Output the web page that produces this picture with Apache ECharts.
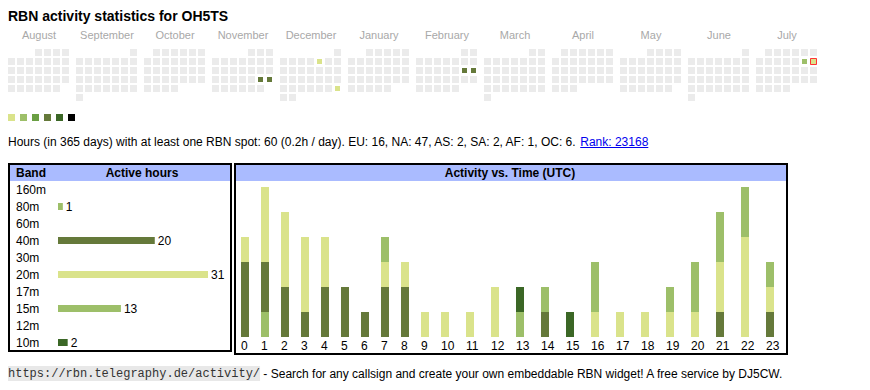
<!DOCTYPE html>
<html><head><meta charset="utf-8">
<script src="https://cdn.jsdelivr.net/npm/echarts@6/dist/echarts.min.js"></script>
<style>html,body{margin:0;padding:0;background:#fff}#c{width:870px;height:390px}</style>
</head><body><div id="c"></div>
<script>
// ---------------- data ----------------
const callsign = 'OH5TS';
const months = ['2024-08','2024-09','2024-10','2024-11','2024-12','2025-01','2025-02','2025-03','2025-04','2025-05','2025-06','2025-07'];
const monthNames = ['August','September','October','November','December','January','February','March','April','May','June','July'];
const activeDays = ['2024-11-23','2024-11-24','2024-12-06','2024-12-29','2025-02-15','2025-02-16','2025-07-12','2025-07-13'];
const activeDayHours = [12, 13, 2, 2, 12, 13, 4, 2];
const today = '2025-07-13';
const levelUpper = [2, 5, 9, 14, 19];          // hours per day, level bounds
const levelColors = ['#dae38b','#9dbf69','#6a9f43','#65793a','#3b6726','#000000'];

const daysSpan = 365;
const totalHours = 60;
const continents = ['EU','NA','AS','SA','AF','OC'];
const continentHours = [16, 47, 2, 2, 1, 6];
const rank = 23168;

const bands = ['160m','80m','60m','40m','30m','20m','17m','15m','12m','10m'];
const bandHours = [0, 1, 0, 20, 0, 31, 0, 13, 0, 2];

const hours = [0,1,2,3,4,5,6,7,8,9,10,11,12,13,14,15,16,17,18,19,20,21,22,23];
const hourly80m = [0,1,0,0,0,0,0,0,0,0,0,0,0,0,0,0,0,0,0,0,0,0,0,0];
const hourly40m = [3,2,2,1,2,2,1,2,2,0,0,0,0,0,1,0,0,0,0,0,0,1,0,1];
const hourly20m = [1,3,3,3,2,0,0,1,1,1,1,1,2,0,0,0,1,1,1,1,1,2,4,1];
const hourly15m = [0,0,0,0,0,0,0,1,0,0,0,0,0,1,1,0,2,0,0,1,2,2,2,1];
const hourly10m = [0,0,0,0,0,0,0,0,0,0,0,0,0,1,0,1,0,0,0,0,0,0,0,0];

// ---------------- styles / layout ----------------
const FONT = '"Liberation Sans", Arial, Helvetica, sans-serif';
const bandColors = {'160m':'#000','80m':'#9dbf69','60m':'#000','40m':'#65793a','30m':'#000','20m':'#dae38b','17m':'#000','15m':'#9dbf69','12m':'#000','10m':'#3b6726'};
const hourlyByBand = {'80m':hourly80m,'40m':hourly40m,'20m':hourly20m,'15m':hourly15m,'10m':hourly10m};
const HEADER_BG = '#aabbff';

const mctx = document.createElement('canvas').getContext('2d');
function measure(t, font){ mctx.font = font; return mctx.measureText(t).width; }

// table-like columns: width depends on label length
const colW = h => String(h).length === 1 ? 20 : 25;
const colStart = [];
{ let acc = 0; hours.forEach(h => { colStart.push(acc); acc += colW(h); }); }
const colTotal = hours.reduce((s,h)=>s+colW(h),0);

const calLeft = i => 7 + 68 * i;

const chart = echarts.init(document.getElementById('c'), null, {renderer:'svg'});

// calendars
const calendars = months.map((m, i) => ({
  orient: 'vertical', range: m, left: calLeft(i), top: 48, cellSize: [9, 9],
  splitLine: {show: false},
  itemStyle: {color: '#ebebeb', borderColor: '#fff', borderWidth: 2},
  dayLabel: {show: false, firstDay: 1}, monthLabel: {show: false}, yearLabel: {show: false}
}));

const series = [];
const heatIdx = [];
months.forEach((m, i) => {
  const data = [];
  activeDays.forEach((d, k) => { if (d.slice(0,7) === m) data.push([d, activeDayHours[k]]); });
  heatIdx.push(series.length);
  series.push({type:'heatmap', coordinateSystem:'calendar', calendarIndex:i, data,
    itemStyle:{borderColor:'#fff', borderWidth:2}, silent:true});
});
series.push({type:'scatter', coordinateSystem:'calendar', calendarIndex: months.indexOf(today.slice(0,7)),
  data:[[today, 1]], symbol:'rect', symbolSize:6, silent:true, z:5,
  itemStyle:{color:'rgba(0,0,0,0)', borderColor:'#ff0000', borderWidth:1}});

// band bar chart
series.push({type:'bar', xAxisIndex:0, yAxisIndex:0, barWidth:7, silent:true,
  data: bandHours.map((v,i)=>({value:v, itemStyle:{color:bandColors[bands[i]]}})),
  label:{show:true, position:'right', distance:3, color:'#000', fontSize:12, fontFamily:FONT,
    formatter: p => p.value ? String(p.value) : ''}});

// activity stacked bars: value listed first so that it is the stacked dimension
const totals = hours.map((h,i)=>Object.values(hourlyByBand).reduce((s,a)=>s+a[i],0));
bands.forEach(b => {
  const arr = hourlyByBand[b];
  if (!arr) return;
  series.push({type:'bar', name:b, xAxisIndex:1, yAxisIndex:1, stack:'hours', barWidth:8, silent:true,
    itemStyle:{color:bandColors[b]}, encode:{x:1, y:0},
    data: hours.map((h,i)=>[arr[i], colStart[i] + 4])});
});

const pieces = levelColors.map((c,i)=>{
  const p = {color:c};
  p.gt = i > 0 ? levelUpper[i-1] : 0;
  if (i < levelUpper.length) p.lte = levelUpper[i];
  return p;
});

// texts
const statsFont = '12px ' + FONT;
const statsText = `Hours (in ${daysSpan} days) with at least one RBN spot: ${totalHours} (${(totalHours/daysSpan).toFixed(1)}h / day). ` +
  continents.map((c,i)=>`${c}: ${continentHours[i]}`).join(', ') + '. ';
const rankText = `Rank: ${rank}`;
const statsW = measure(statsText, statsFont);
const rankW = measure(rankText, statsFont);
const urlText = 'https://rbn.telegraphy.de/activity/';
const urlFont = '12px "Liberation Mono", "DejaVu Sans Mono", monospace';
const urlW = measure(urlText, urlFont);
const footText = ' - Search for any callsign and create your own embeddable RBN widget! A free service by DJ5CW.';

const graphic = [
  {type:'text', x:8, y:16, style:{text:`RBN activity statistics for ${callsign}`, font:'bold 14px '+FONT, fill:'#000', verticalAlign:'middle'}},
  ...monthNames.map((n,i)=>({type:'text', x:calLeft(i)+32, y:35, style:{text:n, font:'11px '+FONT, fill:'#a8a8a8', align:'center', verticalAlign:'middle'}})),
  {type:'text', x:8, y:142, style:{text:statsText, font:statsFont, fill:'#000', verticalAlign:'middle'}},
  {type:'text', x:8+statsW, y:142, style:{text:rankText, font:statsFont, fill:'#0000ee', verticalAlign:'middle'}},
  {type:'line', shape:{x1:8+statsW, y1:147.5, x2:8+statsW+rankW, y2:147.5}, style:{stroke:'#0000ee', lineWidth:1}},
  // band table
  {type:'rect', shape:{x:10, y:165, width:220, height:16}, style:{fill:HEADER_BG}},
  {type:'rect', shape:{x:9, y:164, width:222, height:187}, style:{fill:'none', stroke:'#000', lineWidth:2}},
  {type:'text', x:16, y:173, style:{text:'Band', font:'bold 12px '+FONT, fill:'#000', verticalAlign:'middle'}},
  {type:'text', x:142, y:173, style:{text:'Active hours', font:'bold 12px '+FONT, fill:'#000', align:'center', verticalAlign:'middle'}},
  // activity box
  {type:'rect', shape:{x:236, y:165, width:550, height:16}, style:{fill:HEADER_BG}},
  {type:'rect', shape:{x:235, y:164, width:552, height:190}, style:{fill:'none', stroke:'#000', lineWidth:2}},
  {type:'text', x:510, y:173, style:{text:'Activity vs. Time (UTC)', font:'bold 12px '+FONT, fill:'#000', align:'center', verticalAlign:'middle'}},
  // footer
  {type:'rect', shape:{x:8, y:366, width:urlW, height:15}, style:{fill:'#e8e8e8'}},
  {type:'text', x:8, y:373.5, style:{text:urlText, font:urlFont, fill:'#333', verticalAlign:'middle'}},
  {type:'text', x:8+urlW, y:373.5, style:{text:footText, font:'12px '+FONT, fill:'#000', verticalAlign:'middle'}}
];

const option = {
  animation:false,
  textStyle:{fontFamily:FONT},
  calendar: calendars,
  visualMap: {type:'piecewise', seriesIndex: heatIdx, pieces, orient:'horizontal', left:8, top:114,
    itemWidth:7, itemHeight:7, itemGap:5, itemSymbol:'rect', showLabel:false, padding:0, selectedMode:false, hoverLink:false},
  grid: [
    {left:58, top:181, width:150, height:170},
    {left:241, top:187, width:colTotal, height:150}
  ],
  xAxis: [
    {gridIndex:0, type:'value', min:0, max:Math.max(...bandHours), show:false},
    {gridIndex:1, type:'value', min:0, max:colTotal, splitLine:{show:false}, axisLine:{show:false}, axisTick:{show:false},
      axisLabel:{customValues: colStart, formatter: v => String(hours[colStart.indexOf(+v)]), align:'left', margin:3,
        fontSize:12, color:'#000', fontFamily:FONT}}
  ],
  yAxis: [
    {gridIndex:0, type:'category', data:bands, inverse:true, axisLine:{show:false}, axisTick:{show:false}, splitLine:{show:false},
      axisLabel:{align:'left', margin:42, fontSize:12, color:'#000', fontFamily:FONT}},
    {gridIndex:1, type:'value', min:0, max:Math.max(...totals), show:false}
  ],
  series,
  graphic
};
chart.setOption(option);
</script></body></html>
